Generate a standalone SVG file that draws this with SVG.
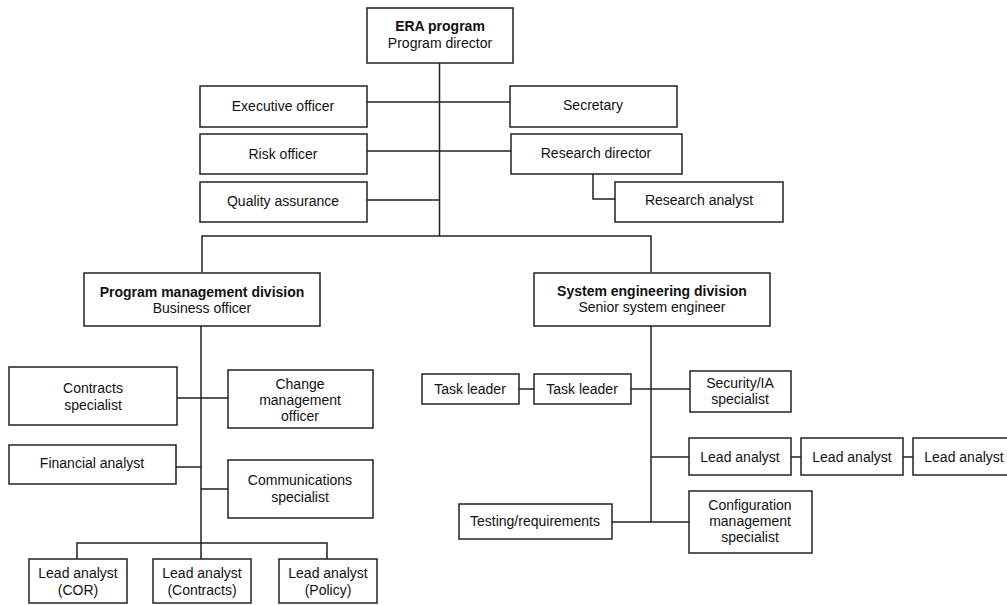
<svg xmlns="http://www.w3.org/2000/svg" width="1007" height="605" viewBox="0 0 1007 605">
<style>
rect{fill:#fff;stroke:#222;stroke-width:1.5}
.c{fill:none;stroke:#222;stroke-width:1.5}
text{font-family:"Liberation Sans",Arial,sans-serif;font-size:14px;fill:#111;text-anchor:middle}
.b{font-weight:bold}
</style>
<rect x="0" y="0" width="1007" height="605" style="stroke:none"/>
<g id="connectors">
<path class="c" d="M439.5,63V236M367,102H510M367,151H511M367,200H439.5M593,174V199H615M202,272V236H651V272"/>
<path class="c" d="M201,326V559M177,398H228M176,467H201M201,489H228M77,559V543H327V559"/>
<path class="c" d="M651,326V522M519,389H534M631,389H690M651,457H689M791,457H801M903,457H913M612,522H689"/>
</g>
<g id="era"><rect x="367" y="8" width="146" height="55"/><text x="440" y="31" class="b">ERA program</text><text x="440" y="48">Program director</text></g>
<g id="exec"><rect x="200" y="86" width="167" height="41"/><text x="283" y="111">Executive officer</text></g>
<g id="secretary"><rect x="510" y="86" width="167" height="41"/><text x="593" y="110">Secretary</text></g>
<g id="risk"><rect x="200" y="134" width="167" height="40"/><text x="283" y="159">Risk officer</text></g>
<g id="resdir"><rect x="511" y="134" width="171" height="40"/><text x="596" y="158">Research director</text></g>
<g id="qa"><rect x="200" y="182" width="167" height="40"/><text x="283" y="206">Quality assurance</text></g>
<g id="resan"><rect x="615" y="182" width="168" height="40"/><text x="699" y="205">Research analyst</text></g>
<g id="pmd"><rect x="84" y="273" width="236" height="53"/><text x="202" y="297" class="b">Program management division</text><text x="202" y="313">Business officer</text></g>
<g id="sed"><rect x="534" y="273" width="236" height="53"/><text x="652" y="296" class="b">System engineering division</text><text x="652" y="312">Senior system engineer</text></g>
<g id="contracts"><rect x="9" y="367" width="168" height="58"/><text x="93" y="393">Contracts</text><text x="93" y="410">specialist</text></g>
<g id="change"><rect x="228" y="370" width="145" height="58"/><text x="300" y="389">Change</text><text x="300" y="405">management</text><text x="300" y="421">officer</text></g>
<g id="financial"><rect x="9" y="445" width="167" height="39"/><text x="92" y="468">Financial analyst</text></g>
<g id="comms"><rect x="228" y="460" width="145" height="58"/><text x="300" y="485">Communications</text><text x="300" y="502">specialist</text></g>
<g id="lacor"><rect x="29" y="559" width="98" height="44"/><text x="78" y="578">Lead analyst</text><text x="78" y="595">(COR)</text></g>
<g id="lacontracts"><rect x="153" y="559" width="98" height="44"/><text x="202" y="578">Lead analyst</text><text x="202" y="595">(Contracts)</text></g>
<g id="lapolicy"><rect x="279" y="559" width="98" height="44"/><text x="328" y="578">Lead analyst</text><text x="328" y="595">(Policy)</text></g>
<g id="task1"><rect x="422" y="374" width="97" height="30"/><text x="470" y="394">Task leader</text></g>
<g id="task2"><rect x="534" y="374" width="97" height="30"/><text x="582" y="394">Task leader</text></g>
<g id="security"><rect x="690" y="371" width="101" height="41"/><text x="740" y="388">Security/IA</text><text x="740" y="404">specialist</text></g>
<g id="la1"><rect x="689" y="438" width="102" height="37"/><text x="740" y="462">Lead analyst</text></g>
<g id="la2"><rect x="801" y="438" width="102" height="37"/><text x="852" y="462">Lead analyst</text></g>
<g id="la3"><rect x="913" y="438" width="100" height="37"/><text x="964" y="462">Lead analyst</text></g>
<g id="testing"><rect x="459" y="504" width="153" height="35"/><text x="535" y="526">Testing/requirements</text></g>
<g id="config"><rect x="689" y="491" width="123" height="62"/><text x="750" y="510">Configuration</text><text x="750" y="526">management</text><text x="750" y="542">specialist</text></g>
</svg>
